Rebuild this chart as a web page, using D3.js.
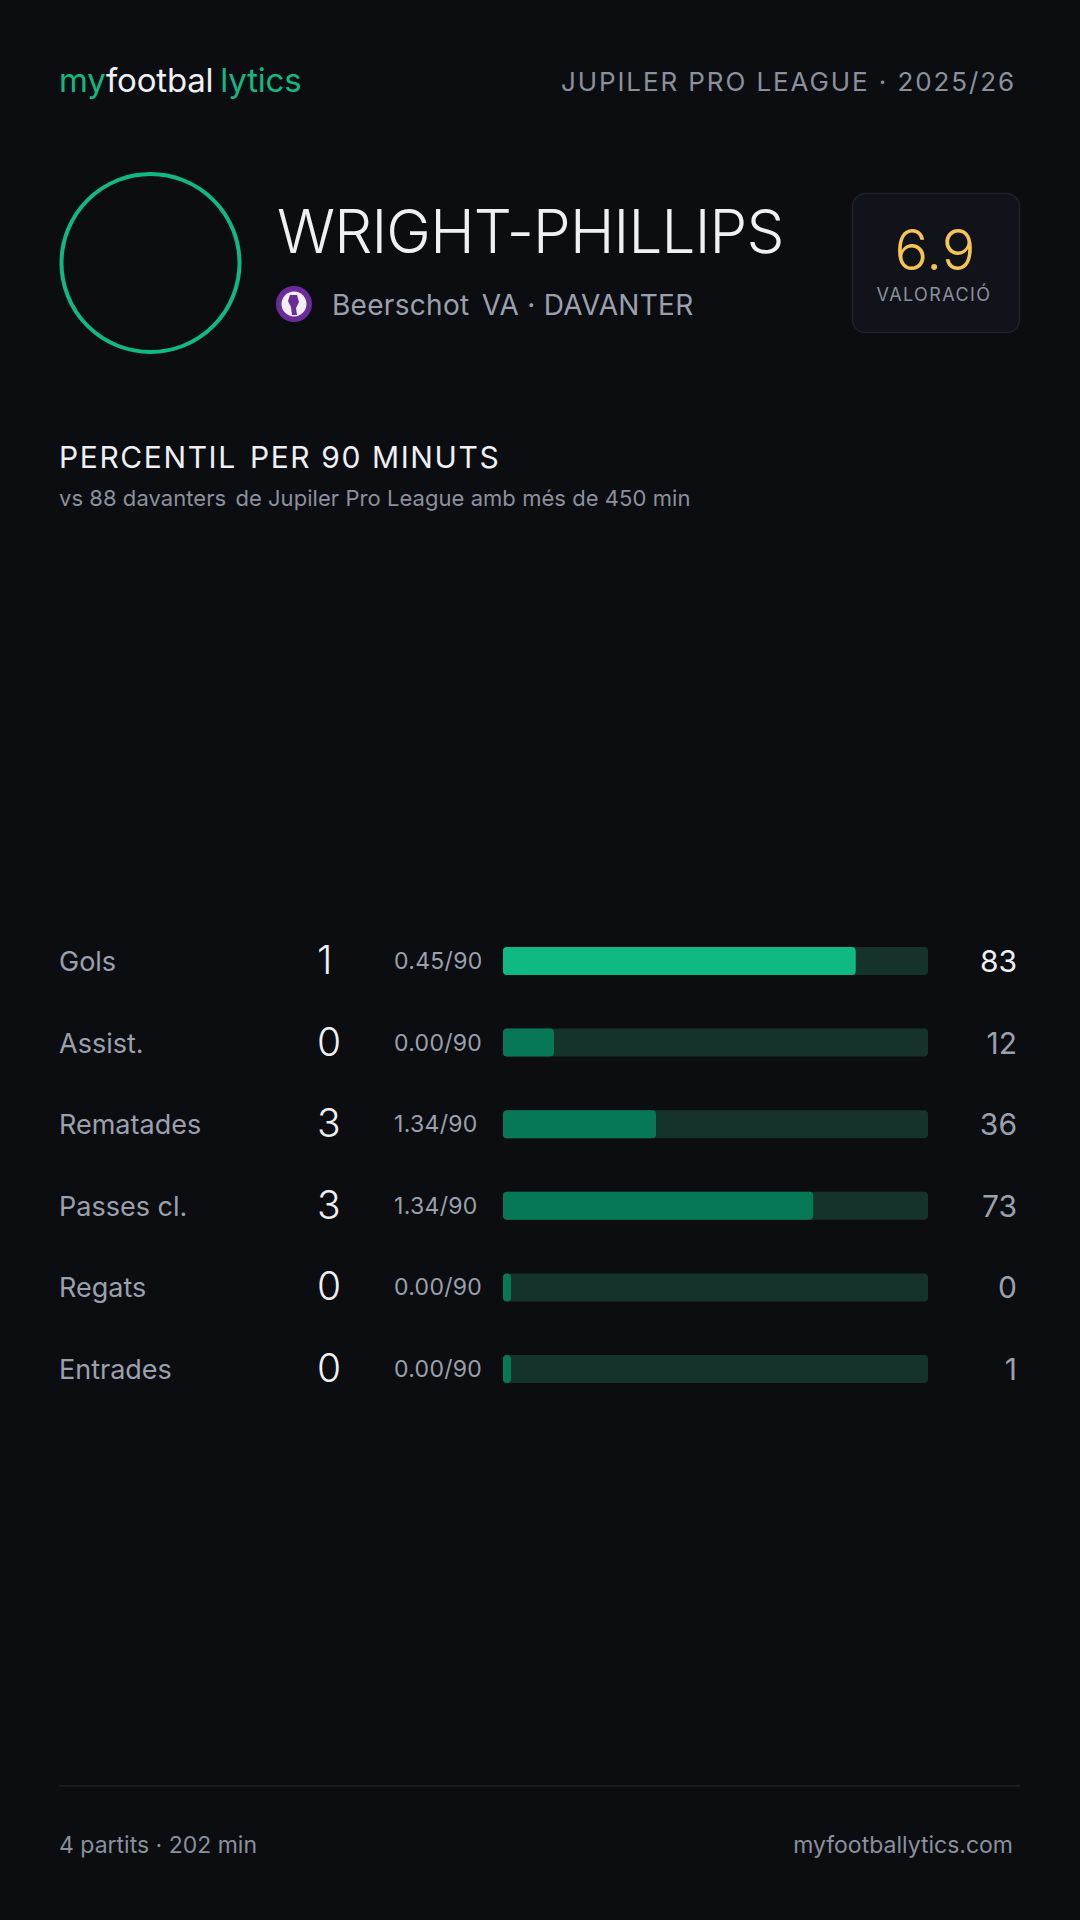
<!DOCTYPE html>
<html>
<head>
<meta charset="utf-8">
<script src="https://cdn.jsdelivr.net/npm/d3@7"></script>
<style>
  html, body { margin: 0; padding: 0; background: #0b0d11; }
  svg { display: block; }
  text { font-family: Inter, "Noto Sans", sans-serif; }
</style>
</head>
<body>
<svg id="card" width="1080" height="1920"></svg>
<script>
(function(){

// stats
var metrics = ["Gols", "Assist.", "Rematades", "Passes cl.", "Regats", "Entrades"];
var totals = [1, 0, 3, 3, 0, 0];
var per90 = ["0.45/90", "0.00/90", "1.34/90", "1.34/90", "0.00/90", "0.00/90"];
var percentiles = [83, 12, 36, 73, 0, 1];

var player = "WRIGHT-PHILLIPS",
club = "Beerschot",
clubShort = "VA",
position = "DAVANTER",
league = "JUPILER PRO LEAGUE · 2025/26",
rating = "6.9",
matches = "4 partits · 202 min";

var bg = "#0b0d11",
green = "#10b981",
darkGreen = "#077857",
track = "#15332a",
grey = "#9aa1ad",
dimGrey = "#8a919d",
white = "#eef0f3";

var svg = d3.select("#card");

svg.append("rect")
	.attr("width", 1080)
	.attr("height", 1920)
	.attr("fill", bg);

//HEADER
var logo = svg.append("text")
	.attr("x", 59)
	.attr("y", 92)
	.attr("font-size", 33)
	.attr("letter-spacing", -0.2);
logo.append("tspan").attr("fill", green).text("my");
logo.append("tspan").attr("fill", white).text("footbal");
logo.append("tspan").attr("fill", green).attr("dx", 7).text("lytics");

svg.append("text")
	.attr("x", 1016)
	.attr("y", 91)
	.attr("text-anchor", "end")
	.attr("font-size", 26)
	.attr("letter-spacing", 1.9)
	.attr("fill", dimGrey)
	.text(league);

//PLAYER
svg.append("circle")
	.attr("cx", 150.5)
	.attr("cy", 263)
	.attr("r", 89)
	.attr("fill", "none")
	.attr("stroke", green)
	.attr("stroke-width", 4);

svg.append("text")
	.attr("x", 277)
	.attr("y", 253)
	.attr("font-size", 60)
	.attr("font-weight", 300)
	.attr("letter-spacing", -0.8)
	.attr("fill", white)
	.text(player);

// club badge
var badge = svg.append("g").attr("transform", "translate(294,304)");
badge.append("circle").attr("r", 18).attr("fill", "#6a2c9a");
badge.append("circle").attr("r", 12.5).attr("fill", "#f3eef7");
badge.append("path")
	.attr("d", "M-4,-9 L3,-9 L5,-2 L2,4 L3,11 L-2,11 L-3,3 L-6,-3 Z")
	.attr("fill", "#6a2c9a");

var clubText = svg.append("text")
	.attr("x", 332)
	.attr("y", 315)
	.attr("font-size", 28)
	.attr("letter-spacing", 0.3)
	.attr("fill", grey);
clubText.append("tspan").text(club);
clubText.append("tspan").attr("dx", 4).text(" " + clubShort + " · " + position);

// rating box
svg.append("rect")
	.attr("x", 852.5)
	.attr("y", 193.5)
	.attr("width", 167)
	.attr("height", 139)
	.attr("rx", 13)
	.attr("fill", "#10131a")
	.attr("stroke", "#1e222a")
	.attr("stroke-width", 1.5);

svg.append("text")
	.attr("x", 935)
	.attr("y", 270)
	.attr("text-anchor", "middle")
	.attr("font-size", 56)
	.attr("font-weight", 300)
	.attr("fill", "#f5c451")
	.text(rating);

svg.append("text")
	.attr("x", 934)
	.attr("y", 301)
	.attr("text-anchor", "middle")
	.attr("font-size", 18)
	.attr("letter-spacing", 1.4)
	.attr("fill", dimGrey)
	.text("VALORACIÓ");

//SECTION TITLE
var title = svg.append("text")
	.attr("x", 59)
	.attr("y", 468)
	.attr("font-size", 30)
	.attr("letter-spacing", 1.6)
	.attr("fill", white);
title.append("tspan").text("PERCENTIL");
title.append("tspan").attr("dx", 3).text(" PER 90 MINUTS");

var sub = svg.append("text")
	.attr("x", 59)
	.attr("y", 506)
	.attr("font-size", 22)
	.attr("letter-spacing", 0.05)
	.attr("fill", dimGrey);
sub.append("tspan").text("vs 88 davanters");
sub.append("tspan").attr("dx", 3).text(" de Jupiler Pro League amb més de 450 min");

//BARS
var rows = metrics.map(function(m, i){
	return {metric: m, total: totals[i], per90: per90[i], pct: percentiles[i]};
});

var y = d3.scalePoint()
	.domain(metrics)
	.range([961, 1369]);

var x = d3.scaleLinear()
	.domain([0, 100])
	.range([503, 928]);

var row = svg.selectAll("g.row")
	.data(rows)
	.enter()
	.append("g")
	.attr("class", "row")
	.attr("transform", function(d){ return "translate(0," + y(d.metric) + ")"; });

row.append("text")
	.attr("x", 59)
	.attr("y", 10)
	.attr("font-size", 27)
	.attr("fill", grey)
	.text(function(d){ return d.metric; });

row.append("text")
	.attr("x", 317)
	.attr("y", 13)
	.attr("font-size", 39)
	.attr("font-weight", 300)
	.attr("fill", white)
	.text(function(d){ return d.total; });

row.append("text")
	.attr("x", 394)
	.attr("y", 8)
	.attr("font-size", 23)
	.attr("letter-spacing", 0.3)
	.attr("fill", grey)
	.text(function(d){ return d.per90; });

row.append("rect")
	.attr("x", x(0))
	.attr("y", -14)
	.attr("width", x(100) - x(0))
	.attr("height", 28)
	.attr("rx", 4)
	.attr("fill", track);

row.append("rect")
	.attr("x", x(0))
	.attr("y", -14)
	.attr("width", function(d){ return Math.max(x(d.pct) - x(0), 8); })
	.attr("height", 28)
	.attr("rx", 4)
	.attr("fill", function(d){ return d.pct >= 80 ? green : darkGreen; });

row.append("text")
	.attr("x", 1017)
	.attr("y", 11)
	.attr("text-anchor", "end")
	.attr("font-size", 30)
	.attr("fill", function(d){ return d.pct >= 80 ? white : grey; })
	.text(function(d){ return d.pct; });

//FOOTER
svg.append("line")
	.attr("x1", 59)
	.attr("x2", 1020)
	.attr("y1", 1786)
	.attr("y2", 1786)
	.attr("stroke", "#1e2029")
	.attr("stroke-width", 1.5);

svg.append("text")
	.attr("x", 59)
	.attr("y", 1853)
	.attr("font-size", 23)
	.attr("fill", dimGrey)
	.text(matches);

svg.append("text")
	.attr("x", 1013)
	.attr("y", 1853)
	.attr("text-anchor", "end")
	.attr("font-size", 23)
	.attr("fill", dimGrey)
	.text("myfootballytics.com");

})()
</script>
</body>
</html>
